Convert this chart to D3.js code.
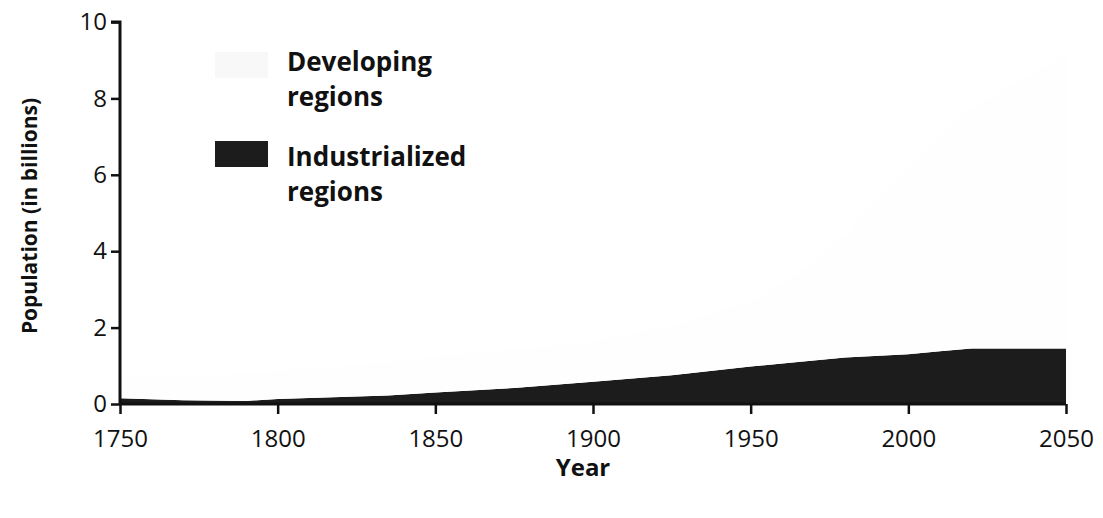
<!DOCTYPE html>
<html>
<head>
<meta charset="utf-8">
<script src="https://cdn.jsdelivr.net/npm/d3@7"></script>
<style>
  body { margin: 0; background: #fff; }
  svg text { font-family: "Open Sans", "Noto Sans", sans-serif; fill: #111; }
</style>
</head>
<body>
<div id="chart"></div>
<script>
// --- Data (billions) ---
const years = [1750, 1770, 1790, 1800, 1820, 1835, 1850, 1875, 1900, 1925, 1950, 1965, 1980, 2000, 2010, 2020, 2050];
const industrialized = [0.15, 0.1, 0.08, 0.13, 0.18, 0.22, 0.3, 0.42, 0.58, 0.75, 0.98, 1.1, 1.22, 1.3, 1.38, 1.45, 1.45];
// developing regions are printed almost white in the scan; rough values stacked on top
const developing = [0.6, 0.65, 0.7, 0.75, 0.8, 0.88, 0.95, 1.0, 1.05, 1.3, 1.7, 2.3, 3.2, 4.9, 5.6, 6.3, 7.7];
const xTicks = [1750, 1800, 1850, 1900, 1950, 2000, 2050];
const yTicks = [0, 2, 4, 6, 8, 10];
const legendLabels = [["Developing", "regions"], ["Industrialized", "regions"]];

const W = 1103, H = 518;
const margin = { top: 22, right: 37, bottom: 114, left: 120 };
const width = W - margin.left - margin.right;
const height = H - margin.top - margin.bottom;

const svg = d3.select("#chart").append("svg")
  .attr("width", W).attr("height", H);

const g = svg.append("g").attr("transform", `translate(${margin.left},${margin.top})`);

const x = d3.scaleLinear().domain([1750, 2050]).range([0, width]);
const y = d3.scaleLinear().domain([0, 10]).range([height, 0]);

const rows = years.map((yr, i) => ({ year: yr, industrialized: industrialized[i], developing: developing[i] }));
const stack = d3.stack().keys(["industrialized", "developing"]);
const series = stack(rows);
const colors = { industrialized: "#1c1c1c", developing: "#fefefe" };

const area = d3.area()
  .x(d => x(d.data.year))
  .y0(d => y(d[0]))
  .y1(d => y(d[1]));

g.selectAll(".layer").data(series).join("path")
  .attr("class", "layer")
  .attr("fill", d => colors[d.key])
  .attr("d", area);

// axes
const xAxis = g.append("g").attr("transform", `translate(0,${height})`)
  .call(d3.axisBottom(x).tickValues(xTicks).tickFormat(d3.format("d")).tickSize(10).tickPadding(16));
const yAxis = g.append("g")
  .call(d3.axisLeft(y).tickValues(yTicks).tickSize(9).tickPadding(4));

[xAxis, yAxis].forEach(ax => {
  ax.select(".domain").attr("stroke", "#111").attr("stroke-width", 3);
  ax.selectAll(".tick line").attr("stroke", "#111").attr("stroke-width", 2.5);
  ax.selectAll(".tick text").attr("font-size", 24).attr("fill", "#111")
    .attr("font-family", "'Open Sans', sans-serif");
});
yAxis.select(".domain").attr("d", `M-9,0H0V${height}`);
xAxis.select(".domain").attr("d", `M0,0H${width}`);

// axis titles
svg.append("text")
  .attr("transform", `translate(37,${margin.top + height / 2 + 3}) rotate(-90)`)
  .attr("text-anchor", "middle")
  .attr("font-size", 21).attr("font-weight", 700)
  .text("Population (in billions)");

svg.append("text")
  .attr("x", 583).attr("y", 476)
  .attr("text-anchor", "middle")
  .attr("font-size", 24).attr("font-weight", 700)
  .text("Year");

// legend
const legend = svg.append("g").attr("transform", "translate(215,48)");
const keys = ["developing", "industrialized"];
keys.forEach((k, i) => {
  const item = legend.append("g").attr("transform", `translate(0,${i * 95})`);
  item.append("rect")
    .attr("x", 0).attr("y", i === 0 ? 4 : -2)
    .attr("width", 53).attr("height", 26)
    .attr("fill", k === "developing" ? "#f8f8f8" : colors[k]);
  legendLabels[i].forEach((t, j) => {
    item.append("text")
      .attr("x", 72).attr("y", 23 + j * 35)
      .attr("font-size", 26).attr("font-weight", 700)
      .text(t);
  });
});
</script>
</body>
</html>
